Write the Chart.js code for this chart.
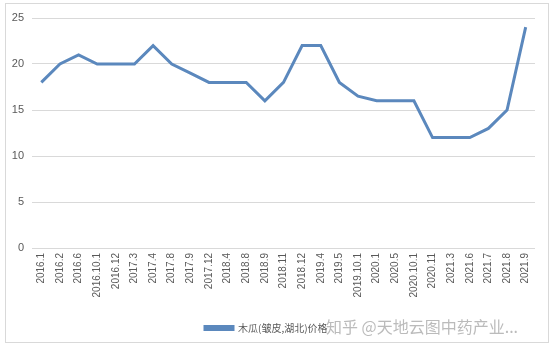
<!DOCTYPE html>
<html>
<head>
<meta charset="utf-8">
<script src="https://cdn.jsdelivr.net/npm/chart.js@4"></script>
<style>
  html, body { margin: 0; padding: 0; background: #fff; }
  #wrap { width: 554px; height: 351px; position: relative; }
</style>
</head>
<body>
<div id="wrap"><canvas id="c" width="554" height="351"></canvas></div>
<script>
// 木瓜价格 数据
const categories = ['2016.1','2016.2','2016.6','2016.10.1','2016.12','2017.3','2017.4','2017.8','2017.9','2017.12',
  '2018.4','2018.8','2018.9','2018.11','2018.12','2019.4','2019.5','2019.10.1','2020.1','2020.5',
  '2020.10.1','2020.11','2021.3','2021.6','2021.7','2021.8','2021.9'];
const prices = [18,20,21,20,20,20,22,20,19,18,18,18,16,18,22,22,18,16.5,16,16,16,12,12,12,13,15,24];
const yTicks = [0, 5, 10, 15, 20, 25];
const seriesName = '木瓜(皱皮,湖北)价格';
const watermark = '知乎 @天地云图中药产业...';

const textColor = '#595959';

// 外框 + 水印
const framePlugin = {
  id: 'frame',
  beforeDraw(chart) {
    const ctx = chart.ctx;
    ctx.save();
    ctx.fillStyle = '#fff';
    ctx.fillRect(0, 0, chart.width, chart.height);
    ctx.strokeStyle = '#d9d9d9';
    ctx.lineWidth = 1;
    ctx.strokeRect(5.5, 3.5, 543, 339);
    ctx.restore();
  },
  afterLayout(chart) {
    // legend 位置
    const l = chart.legend;
    if (l && l.lineWidths) {
      l.left = 195;
      l.right = 205 + l.lineWidths[0];
    }
  },
  afterDraw(chart) {
    const ctx = chart.ctx;
    ctx.save();
    ctx.font = '16px "Noto Sans CJK SC"';
    ctx.fillStyle = 'rgba(175,175,175,0.85)';
    ctx.textBaseline = 'middle';
    ctx.fillText(watermark, 326, 327);
    ctx.restore();
  }
};

new Chart(document.getElementById('c'), {
  type: 'line',
  data: {
    labels: categories,
    datasets: [{
      label: seriesName,
      data: prices,
      borderColor: '#5b88bd',
      backgroundColor: '#5b88bd',
      borderWidth: 3,
      pointRadius: 0,
      tension: 0,
      fill: false
    }]
  },
  options: {
    responsive: false,
    animation: false,
    layout: { padding: { left: 0, right: 19, top: 18, bottom: 8 } },
    plugins: {
      legend: {
        position: 'bottom',
        labels: {
          boxWidth: 28,
          boxHeight: 3,
          padding: 10,
          color: textColor,
          font: { size: 10, family: '"Noto Sans CJK SC"' }
        }
      },
      tooltip: { enabled: false }
    },
    scales: {
      x: {
        offset: true,
        grid: { display: false, drawTicks: false },
        border: { display: false },
        ticks: {
          color: textColor,
          font: { size: 10, family: '"Liberation Sans"' },
          minRotation: 90,
          maxRotation: 90,
          autoSkip: false,
          padding: 5
        },
        afterFit(scale) { scale.height = 65; }
      },
      y: {
        min: 0,
        max: 25,
        afterBuildTicks(scale) { scale.ticks = yTicks.map(v => ({ value: v })); },
        grid: { color: '#d9d9d9', drawTicks: false },
        border: { display: false },
        ticks: {
          color: textColor,
          font: { size: 11, family: '"Liberation Sans"' },
          padding: 8
        },
        afterFit(scale) { scale.width = 32; }
      }
    }
  },
  plugins: [framePlugin]
});
</script>
</body>
</html>
